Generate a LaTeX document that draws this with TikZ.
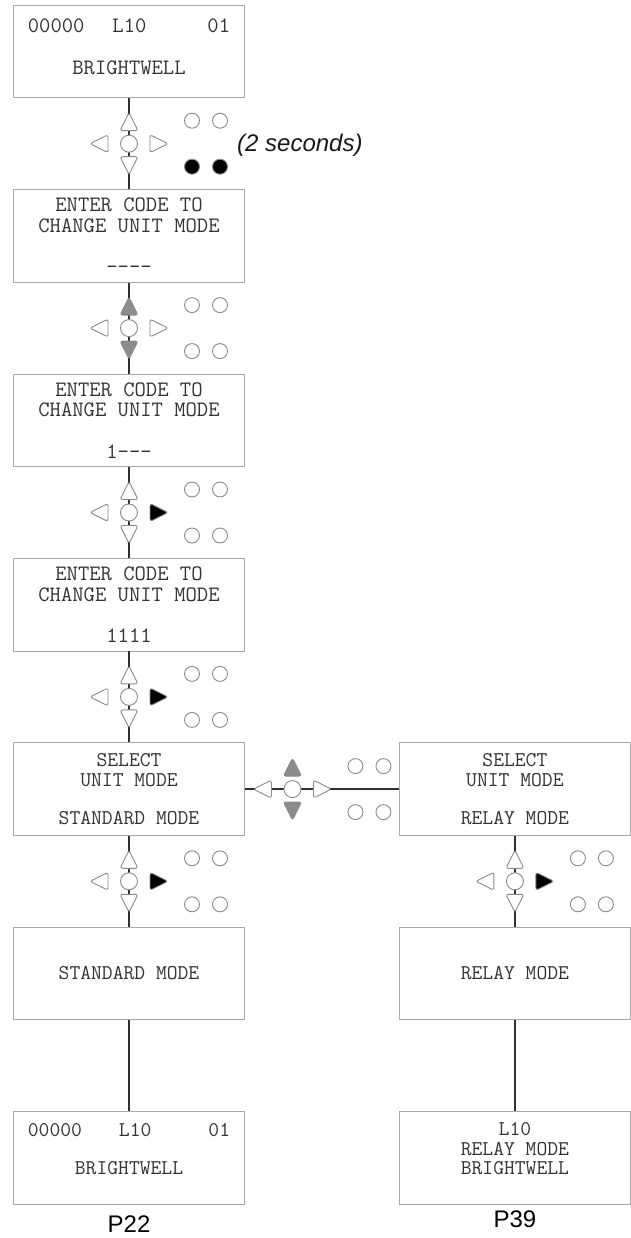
\documentclass[tikz,border=0pt]{standalone}
\usepackage{fontspec}
\usepackage{xcolor}
\usepackage{tikz}
\usetikzlibrary{positioning, calc}
\newfontfamily\labelfont{Liberation Sans}
\definecolor{screenline}{HTML}{A8A8A8}
\definecolor{screentext}{HTML}{333333}
\definecolor{keyline}{HTML}{8A8A8A}
\definecolor{keygray}{HTML}{8C8C8C}
\definecolor{wirecol}{HTML}{303030}

\begin{document}
\begin{tikzpicture}[
    x=1pt, y=-1pt,
    screen/.style={rectangle, draw=screenline, line width=0.9pt, minimum width=231pt, minimum height=92.5pt, inner sep=0pt, align=center, text=screentext},
    bigtt/.style={font=\fontsize{22}{20.5}\selectfont\ttfamily},
    smalltt/.style={font=\fontsize{21}{19.5}\selectfont\ttfamily},
    wire/.style={draw=wirecol, line width=1.5pt},
    key/.style={draw=keyline, line width=0.9pt, rounded corners=2.5pt},
    pics/keypad/.style n args={3}{code={
        \draw[key, fill=#1] (0,-31) -- (9,-13) -- (-9,-13) -- cycle;
        \draw[key, fill=#1] (0,31) -- (9,13) -- (-9,13) -- cycle;
        \draw[key, fill=white] (-39,0) -- (-21,-9) -- (-21,9) -- cycle;
        \draw[key, fill=#2] (39,0) -- (21,-9) -- (21,9) -- cycle;
        \draw[key, fill=white] (0,0) circle[radius=8.5pt];
        \foreach \dx in {63,91} {
            \draw[key, fill=white] (\dx,-23) circle[radius=7.5pt];
            \draw[key, fill=#3] (\dx,23) circle[radius=7.5pt];
        }
    }},
    hold/.style={font=\labelfont\itshape\fontsize{24}{24}\selectfont, text=black!90, inner sep=0pt, anchor=base west},
    page/.style={font=\labelfont\fontsize{24}{24}\selectfont, inner sep=0pt}
]
\useasboundingbox (0,0) rectangle (630,1238);

% screens, left column
\node[screen, bigtt, text depth=10.5pt] (home) at (129,51.5) {00000\hspace{28pt}L10\hspace{61pt}01\\[21.5pt]BRIGHTWELL};
\node[screen, bigtt, below=91pt of home] (code0) {ENTER CODE TO\\CHANGE UNIT MODE\\[21pt]-{}-{}-{}-};
\node[screen, bigtt, below=91pt of code0] (code1) {ENTER CODE TO\\CHANGE UNIT MODE\\[21pt]1-{}-{}-};
\node[screen, bigtt, below=91pt of code1] (code4) {ENTER CODE TO\\CHANGE UNIT MODE\\[21pt]1111};
\node[screen, smalltt, below=91pt of code4] (selstd) {SELECT\\UNIT MODE\\[18.5pt]STANDARD MODE};
\node[screen, smalltt, below=91pt of selstd] (std) {STANDARD MODE};
\node[screen, smalltt, text depth=18.4pt, below=91pt of std] (stdhome) {00000\hspace{37pt}L10\hspace{57pt}01\\[18.5pt]BRIGHTWELL};

% screens, right column
\node[screen, smalltt, right=154pt of selstd] (selrly) {SELECT\\UNIT MODE\\[18.5pt]RELAY MODE};
\node[screen, smalltt, below=91pt of selrly] (rly) {RELAY MODE};
\node[screen, smalltt, text depth=18.4pt, below=91pt of rly] (rlyhome) {L10\\RELAY MODE\\BRIGHTWELL};

\node[page, below=11pt of stdhome] (p22) {P22};
\node[page, below=6pt of rlyhome] (p39) {P39};

\draw[wire] (home) -- (code0);
\draw[wire] (code0) -- (code1);
\draw[wire] (code1) -- (code4);
\draw[wire] (code4) -- (selstd);
\draw[wire] (selstd) -- (selrly);
\draw[wire] (selstd) -- (std);
\draw[wire] (selrly) -- (rly);
\draw[wire] (std) -- (stdhome);
\draw[wire] (rly) -- (rlyhome);

% key presses
\pic at ($(home.south)!0.5!(code0.north)$) {keypad={white}{white}{black}};
\pic at ($(code0.south)!0.5!(code1.north)$) {keypad={keygray}{white}{white}};
\pic at ($(code1.south)!0.5!(code4.north)$) {keypad={white}{black}{white}};
\pic at ($(code4.south)!0.5!(selstd.north)$) {keypad={white}{black}{white}};
\pic at ($(selstd.east)+(47.5,0)$) {keypad={keygray}{white}{white}};
\pic at ($(selstd.south)!0.5!(std.north)$) {keypad={white}{black}{white}};
\pic at ($(selrly.south)!0.5!(rly.north)$) {keypad={white}{black}{white}};

\node[hold] (twosec) at (237,152) {(2 seconds)};
\end{tikzpicture}
\end{document}
